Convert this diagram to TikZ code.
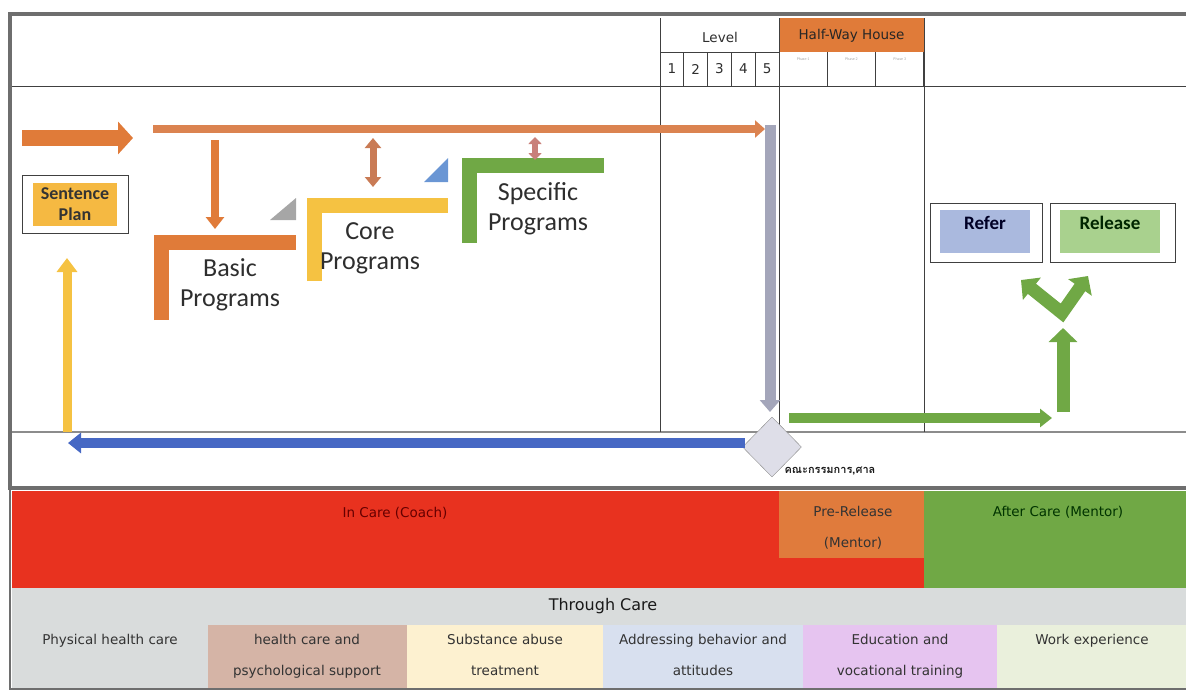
\documentclass[tikz,border=0pt]{standalone}
\usepackage{fontspec}
\setmainfont{Carlito}
\newfontfamily\uifont{DejaVu Sans}
\newfontfamily\thaifont[Script=Thai]{Loma}
\usetikzlibrary{arrows.meta,positioning,shapes.geometric}

\definecolor{frameGray}{HTML}{6E6E6E}
\definecolor{txtDark}{HTML}{2E2E2E}
\definecolor{basicOrange}{HTML}{E07B39}
\definecolor{trackOrange}{HTML}{DB8350}
\definecolor{coreYellow}{HTML}{F5C242}
\definecolor{specGreen}{HTML}{70A845}
\definecolor{triGray}{HTML}{A6A6A6}
\definecolor{triBlue}{HTML}{6A96D4}
\definecolor{linkBrown}{HTML}{C97B55}
\definecolor{linkPink}{HTML}{C9807A}
\definecolor{pipeGray}{HTML}{A4A6BA}
\definecolor{backBlue}{HTML}{4668C4}
\definecolor{boardFill}{HTML}{DEDEE8}
\definecolor{planOrange}{HTML}{F5B942}
\definecolor{referBlue}{HTML}{AAB9DE}
\definecolor{releaseGreen}{HTML}{A9D18E}
\definecolor{careRed}{HTML}{E8321F}
\definecolor{preOrange}{HTML}{E07B3C}
\definecolor{afterGreen}{HTML}{70A845}
\definecolor{throughGray}{HTML}{D9DCDC}
\definecolor{cellBrown}{HTML}{D5B4A6}
\definecolor{cellCream}{HTML}{FDF1D0}
\definecolor{cellBlue}{HTML}{D8E0EF}
\definecolor{cellLilac}{HTML}{E6C4F0}
\definecolor{cellLime}{HTML}{EAF0DC}

\tikzset{every picture/.style={x=1pt, y=-1pt}}
\tikzset{rule/.style={draw=black!75, line width=0.9pt}}
\tikzset{lbar/.style={line width=15pt, line join=miter}}
\tikzset{fat/.style args={#1/#2/#3}{line width=#1, -{Triangle[length=#2, width=#3]}}}
\tikzset{fatboth/.style args={#1/#2/#3}{line width=#1, {Triangle[length=#2, width=#3]}-{Triangle[length=#2, width=#3]}}}
\tikzset{prog/.style={text=txtDark, align=center, font=\fontsize{26}{30}\selectfont}}
\tikzset{band/.style={text=black!80, align=center, font=\uifont\fontsize{13.5}{31}\selectfont}}
\tikzset{head/.style={text=txtDark, font=\uifont\fontsize{13.5}{16}\selectfont}}

\begin{document}
\begin{tikzpicture}
\useasboundingbox (0,0) rectangle (1186,691);
% top frame
\draw[rule] (10,86) -- (1186,86);
\draw[draw=black!45, line width=1.2pt] (10,432) -- (1186,432);
\foreach \x in {660,779,924} {
\draw[rule] (\x,18) -- (\x,432);
}
\draw[draw=frameGray, line width=3.5pt] (1186,14) -- (10,14) -- (10,488) -- (1186,488);

% level header
\node[head] (level) at (720,37) {Level};
\draw[rule] (660,52) -- (779,52);
\foreach \i in {1,...,5} {
\pgfmathsetmacro{\cx}{660 + 23.8*(\i - 0.5)}
\pgfmathsetmacro{\rx}{660 + 23.8*\i}
\node[head] (lv\i) at (\cx,69) {\i};
\draw[rule] (\rx,52) -- (\rx,86);
}

% half-way house
\fill[basicOrange] (779.5,18) rectangle (923.5,52);
\node[head, text=black!85] (hwh) at (851.5,36) {Half-Way House};
\foreach \i in {1,2,3} {
\pgfmathsetmacro{\cx}{779 + 48.3*(\i - 0.5)}
\pgfmathsetmacro{\rx}{779 + 48.3*\i}
\node[text=black!35, font=\fontsize{4}{5}\selectfont] (ph\i) at (\cx,59) {Phase \i};
\draw[rule] (\rx,52) -- (\rx,86);
}

% entry arrows
\coordinate (inA) at (22,138);
\coordinate (inB) at (133,138);
\draw[basicOrange, fat=16pt/15pt/32pt] (inA) -- (inB);
\coordinate (trackA) at (153,129);
\coordinate (trackB) at (765,129);
\draw[trackOrange, fat=8pt/10pt/17pt] (trackA) -- (trackB);

% program brackets
\fill[triGray] (296,198) -- (296,220) -- (270,220) -- cycle;
\fill[triBlue] (448,158) -- (448,182) -- (424,182) -- cycle;
\draw[lbar, basicOrange] (161.5,320) -- (161.5,242.5) -- (296,242.5);
\draw[lbar, coreYellow] (314.5,281) -- (314.5,205) -- (448,205);
\draw[lbar, specGreen] (469.5,243) -- (469.5,165) -- (604,165);
\node[prog] (basic) at (230,285) {Basic\\Programs};
\node[prog] (core) at (370,248) {Core\\Programs};
\node[prog] (specific) at (538,209) {Specific\\Programs};

% links from track
\coordinate (dnA) at (215,140);
\coordinate (dnB) at (215,229);
\draw[basicOrange, fat=8pt/12pt/18pt] (dnA) -- (dnB);
\coordinate (coA) at (373,138);
\coordinate (coB) at (373,187);
\draw[linkBrown, fatboth=7pt/10pt/16pt] (coA) -- (coB);
\coordinate (spA) at (535,137);
\coordinate (spB) at (535,160);
\draw[linkPink, fatboth=6pt/7pt/13pt] (spA) -- (spB);

% sentence plan
\node[draw=black!75, line width=0.9pt, minimum width=106pt, minimum height=58pt] (planbox) at (75,204) {};
\node[fill=planOrange, text=black!80, align=center, minimum width=84pt, minimum height=43pt, inner sep=0pt,
  font=\bfseries\fontsize{18}{21}\selectfont] (plan) at (planbox.center) {Sentence\\Plan};

% return loop
\node[diamond, draw=black!45, fill=boardFill, minimum width=59pt, minimum height=60pt] (board) at (772,447) {};
\node[anchor=west, text=black!90, font=\thaifont\bfseries\fontsize{11}{12}\selectfont] (boardtxt) at (781,471) {คณะกรรมการ,ศาล};
\coordinate (pipeA) at (770,125);
\coordinate (pipeB) at (770,412);
\draw[pipeGray, fat=11pt/12pt/20pt] (pipeA) -- (pipeB);
\coordinate (backA) at (745,443);
\coordinate (backB) at (68,443);
\draw[backBlue, fat=10pt/13pt/20pt] (backA) -- (backB);
\coordinate (upA) at (67,432);
\coordinate (upB) at (67,258);
\draw[coreYellow, fat=9pt/14pt/20pt] (upA) -- (upB);

% after care exits
\coordinate (outA) at (789,418);
\coordinate (outB) at (1052,418);
\draw[specGreen, fat=10pt/12pt/18pt] (outA) -- (outB);
\coordinate (riseA) at (1063,412);
\coordinate (riseB) at (1063,328);
\draw[specGreen, fat=13pt/14pt/28pt] (riseA) -- (riseB);
\coordinate (forkL) at (1021,280);
\coordinate (forkV) at (1062,313);
\coordinate (forkR) at (1088,276);
\draw[specGreen, line join=miter, fatboth=13pt/14pt/28pt] (forkL) -- (forkV) -- (forkR);

\node[draw=black!75, line width=0.9pt, minimum width=112pt, minimum height=59pt] (referbox) at (986,232.5) {};
\node[fill=referBlue, minimum width=90pt, minimum height=43pt] (referfill) at (985,231.5) {};
\node[text=black!75!blue!60!black, font=\bfseries\fontsize{19}{22}\selectfont] (refer) at (985,223) {Refer};
\node[draw=black!75, line width=0.9pt, minimum width=125pt, minimum height=59pt] (releasebox) at (1112.5,232.5) {};
\node[fill=releaseGreen, minimum width=100pt, minimum height=43pt] (releasefill) at (1110,231.5) {};
\node[text=black!70!green!50!black, font=\bfseries\fontsize{19}{22}\selectfont] (release) at (1110,223) {Release};

% care bands
\fill[careRed] (12,491) rectangle (924,588);
\fill[preOrange] (779,491) rectangle (924,558);
\fill[afterGreen] (924,491) rectangle (1186,588);
\node[band, text=red!40!black] (incare) at (395,513) {In Care (Coach)};
\node[band] (prerel) at (853,528) {Pre-Release\\(Mentor)};
\node[band, text=black!80!green] (aftercare) at (1058,512) {After Care (Mentor)};

% through care
\fill[throughGray] (12,588) rectangle (1186,688);
\node[text=black!90, font=\uifont\fontsize{16}{18}\selectfont] (through) at (603,606) {Through Care};
\fill[cellBrown] (208,625) rectangle (407,688);
\fill[cellCream] (407,625) rectangle (603,688);
\fill[cellBlue] (603,625) rectangle (803,688);
\fill[cellLilac] (803,625) rectangle (997,688);
\fill[cellLime] (997,625) rectangle (1186,688);
\node[band, anchor=north] (physical) at (110,631) {Physical health care};
\node[band, anchor=north] (psych) at (307,631) {health care and\\psychological support};
\node[band, anchor=north] (substance) at (505,631) {Substance abuse\\treatment};
\node[band, anchor=north] (behavior) at (703,631) {Addressing behavior and\\attitudes};
\node[band, anchor=north] (education) at (900,631) {Education and\\vocational training};
\node[band, anchor=north] (work) at (1092,631) {Work experience};
\draw[draw=frameGray, line width=2pt] (10,488) -- (10,689) -- (1186,689);
\end{tikzpicture}
\end{document}
